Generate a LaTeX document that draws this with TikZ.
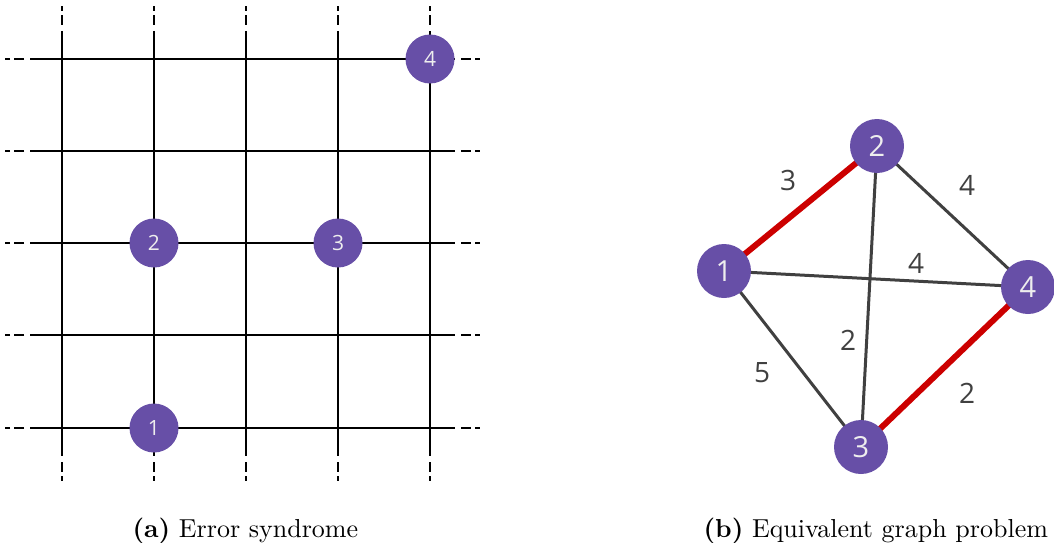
\documentclass[tikz,border=0pt]{standalone}
\usepackage{fontspec}
\newfontfamily\digitfont{Open Sans}
\definecolor{qpurple}{RGB}{103,79,167}
\definecolor{qred}{RGB}{204,0,0}
\definecolor{qgray}{RGB}{64,64,64}
\definecolor{qtext}{RGB}{238,238,238}
\tikzset{
  gridline/.style={line width=2pt, black},
  gridext/.style={line width=2pt, black, dash pattern=on 10pt off 4pt on 5pt off 6pt, dash phase=19pt},
  gnode/.style={circle, fill=qpurple, inner sep=0pt, minimum size=49pt, text=qtext, font=\digitfont\fontsize{21}{24}\selectfont},
  bnode/.style={circle, fill=qpurple, inner sep=0pt, minimum size=54pt, text=qtext, font=\digitfont\fontsize{29}{32}\selectfont},
  plainedge/.style={line width=3pt, qgray},
  rededge/.style={line width=6pt, qred},
  wlabel/.style={text=qgray, font=\digitfont\fontsize{28}{30}\selectfont, inner sep=0pt},
  caption/.style={anchor=base west, inner sep=0pt, font=\normalsize, scale=2.6}
}
\begin{document}
\begin{tikzpicture}[x=1pt,y=-1pt]
\path[use as bounding box] (0,0) rectangle (1054,543);
% grid
\foreach \v in {62,154,246,338,430} {
  \draw[gridline] (\v,31) -- (\v,456);
  \draw[gridext] (\v,456) -- (\v,486);
  \draw[gridext] (\v,31) -- (\v,3);
}
\foreach \h in {59,151,243,335,428} {
  \draw[gridline] (30,\h) -- (455,\h);
  \draw[gridext] (455,\h) -- (485,\h);
  \draw[gridext] (30,\h) -- (2,\h);
}
\node[gnode] (g1) at (154,428) {1};
\node[gnode] (g2) at (154,243) {2};
\node[gnode] (g3) at (338,243) {3};
\node[gnode] (g4) at (430,59) {4};
% graph
\coordinate (p1) at (724,271);
\coordinate (p2) at (877,146);
\coordinate (p3) at (861,447);
\coordinate (p4) at (1028,287);
\draw[plainedge] (p2) -- (p4);
\draw[plainedge] (p1) -- (p4);
\draw[plainedge] (p2) -- (p3);
\draw[plainedge] (p1) -- (p3);
\draw[rededge] (p1) -- (p2);
\draw[rededge] (p3) -- (p4);
\node[bnode] (b1) at (p1) {1};
\node[bnode] (b2) at (p2) {2};
\node[bnode] (b3) at (p3) {3};
\node[bnode] (b4) at (p4) {4};
\node[wlabel] (w12) at (788,180) {3};
\node[wlabel] (w24) at (967,185) {4};
\node[wlabel] (w14) at (916,263) {4};
\node[wlabel] (w23) at (848,340) {2};
\node[wlabel] (w13) at (762,373) {5};
\node[wlabel] (w34) at (967,393) {2};
% captions
\node[caption] (capa) at (132,537) {\textbf{(a)} Error syndrome};
\node[caption] (capb) at (703,537) {\textbf{(b)} Equivalent graph problem};
\end{tikzpicture}
\end{document}
